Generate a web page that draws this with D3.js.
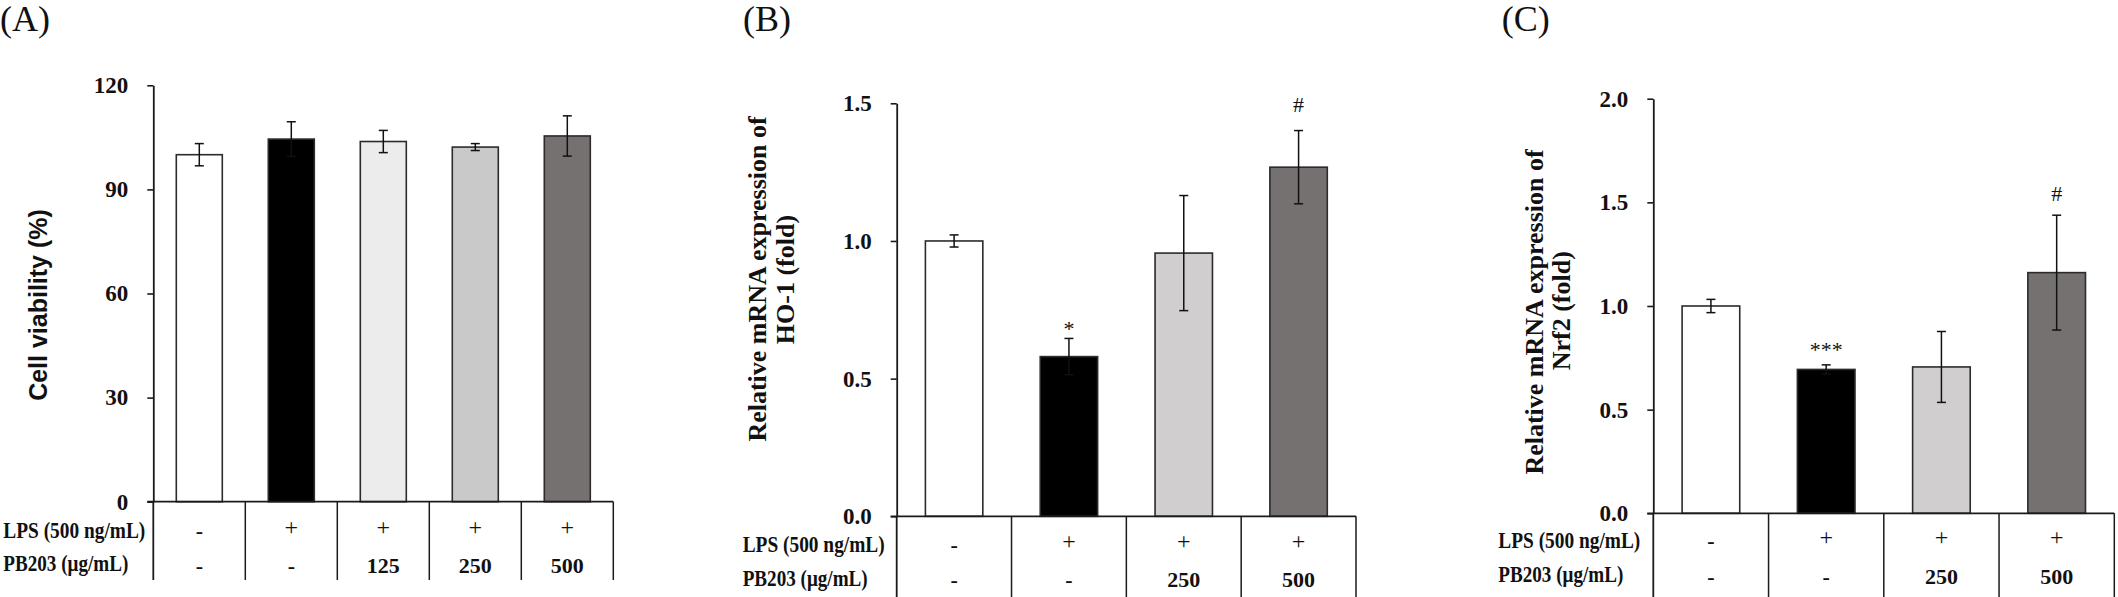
<!DOCTYPE html>
<html>
<head>
<meta charset="utf-8">
<script src="https://cdn.jsdelivr.net/npm/d3@7"></script>
<style>
  html, body { margin: 0; padding: 0; background: #ffffff; }
  svg { display: block; }
</style>
</head>
<body>
<div id="chart"></div>
<script>
// ---------------- DATA ----------------
// Panel A: cell viability
const catsA = ["Control", "LPS", "LPS+PB203 125", "LPS+PB203 250", "LPS+PB203 500"];
const lpsRowA = ["-", "+", "+", "+", "+"];
const pbRowA = ["-", "-", "125", "250", "500"];
const viabilityMean = [100.0, 104.5, 103.8, 102.2, 105.4];
const viabilityErr = [3.2, 5.0, 3.2, 1.0, 5.8];
const colorsA = ["#ffffff", "#000000", "#ececec", "#c9c9c9", "#767171"];
const ticksA = [0, 30, 60, 90, 120];

// Panel B: HO-1
const catsB = ["Control", "LPS", "LPS+PB203 250", "LPS+PB203 500"];
const lpsRowB = ["-", "+", "+", "+"];
const pbRowB = ["-", "-", "250", "500"];
const ho1Mean = [1.00, 0.58, 0.956, 1.268];
const ho1Err = [0.022, 0.066, 0.209, 0.133];
const ho1Marks = ["", "*", "", "#"];
const ho1MarkY = [null, 0.70, null, 1.495];
const ticksB = [0.0, 0.5, 1.0, 1.5];

// Panel C: Nrf2
const catsC = ["Control", "LPS", "LPS+PB203 250", "LPS+PB203 500"];
const lpsRowC = ["-", "+", "+", "+"];
const pbRowC = ["-", "-", "250", "500"];
const nrf2Mean = [1.00, 0.694, 0.706, 1.161];
const nrf2Err = [0.032, 0.022, 0.171, 0.277];
const nrf2Marks = ["", "***", "", "#"];
const nrf2MarkY = [null, 0.811, null, 1.541];
const ticksC = [0.0, 0.5, 1.0, 1.5, 2.0];

const colorsBC = ["#ffffff", "#000000", "#d0cece", "#767171"];
const rowLabels = ["LPS (500 ng/mL)", "PB203 (\u03bcg/mL)"];

// ---------------- LAYOUT ----------------
const W = 2118, H = 597;
const SERIF = "'Liberation Serif', 'Times New Roman', Times, serif";
const SANS = "'Liberation Sans', Arial, Helvetica, sans-serif";

const svg = d3.select("#chart").append("svg")
  .attr("width", W).attr("height", H)
  .attr("viewBox", `0 0 ${W} ${H}`);

function drawPanel(cfg) {
  const g = svg.append("g");
  const n = cfg.cats.length;

  const x = d3.scaleBand().domain(cfg.cats).range([cfg.x0, cfg.x1])
    .paddingInner(0.5).paddingOuter(0.25);
  const xCell = d3.scaleBand().domain(cfg.cats).range([cfg.x0, cfg.x1]).padding(0);
  const y = d3.scaleLinear().domain([0, cfg.max]).range([cfg.yBase, cfg.yTop]);

  // panel letter
  g.append("text")
    .attr("x", cfg.letterX).attr("y", 31)
    .attr("font-family", SERIF).attr("font-size", 36)
    .attr("fill", "#111")
    .text(cfg.letter);

  // bars
  g.selectAll("rect.bar").data(cfg.values).enter().append("rect")
    .attr("class", "bar")
    .attr("x", (d, i) => x(cfg.cats[i]))
    .attr("width", x.bandwidth())
    .attr("y", d => y(d))
    .attr("height", d => y(0) - y(d))
    .attr("fill", (d, i) => cfg.colors[i])
    .attr("stroke", "#2b2b2b")
    .attr("stroke-width", 1.6);

  // error bars
  const cap = 4.5;
  const eb = g.selectAll("g.err").data(cfg.values).enter().append("g").attr("class", "err");
  eb.append("line")
    .attr("x1", (d, i) => x(cfg.cats[i]) + x.bandwidth() / 2)
    .attr("x2", (d, i) => x(cfg.cats[i]) + x.bandwidth() / 2)
    .attr("y1", (d, i) => y(d - cfg.errs[i]))
    .attr("y2", (d, i) => y(d + cfg.errs[i]));
  eb.append("line")
    .attr("x1", (d, i) => x(cfg.cats[i]) + x.bandwidth() / 2 - cap)
    .attr("x2", (d, i) => x(cfg.cats[i]) + x.bandwidth() / 2 + cap)
    .attr("y1", (d, i) => y(d + cfg.errs[i]))
    .attr("y2", (d, i) => y(d + cfg.errs[i]));
  eb.append("line")
    .attr("x1", (d, i) => x(cfg.cats[i]) + x.bandwidth() / 2 - cap)
    .attr("x2", (d, i) => x(cfg.cats[i]) + x.bandwidth() / 2 + cap)
    .attr("y1", (d, i) => y(d - cfg.errs[i]))
    .attr("y2", (d, i) => y(d - cfg.errs[i]));
  eb.selectAll("line").attr("stroke", "#111").attr("stroke-width", 1.5);

  // significance marks
  if (cfg.marks) {
    cfg.marks.forEach((m, i) => {
      if (!m) return;
      g.append("text")
        .attr("x", x(cfg.cats[i]) + x.bandwidth() / 2)
        .attr("y", y(cfg.markY[i]))
        .attr("dy", m === "#" ? "0.34em" : "0.55em")
        .attr("text-anchor", "middle")
        .attr("font-family", SERIF).attr("font-size", 22)
        .attr("fill", "#111")
        .text(m);
    });
  }

  // y axis
  const axis = d3.axisLeft(y).tickValues(cfg.ticks).tickSize(6).tickSizeOuter(0)
    .tickPadding(19).tickFormat(cfg.fmt);
  const ag = g.append("g").attr("transform", `translate(${cfg.x0},0)`).call(axis);
  ag.select(".domain").attr("stroke", "#1a1a1a").attr("stroke-width", 1.8);
  ag.selectAll(".tick line").attr("stroke", "#1a1a1a").attr("stroke-width", 1.6);
  ag.selectAll(".tick text")
    .attr("font-family", SERIF).attr("font-size", 23).attr("font-weight", "bold")
    .attr("fill", "#111");

  // axis extension down into the table
  g.append("line")
    .attr("x1", cfg.x0).attr("x2", cfg.x0)
    .attr("y1", cfg.yBase).attr("y2", cfg.tableBottom)
    .attr("stroke", "#1a1a1a").attr("stroke-width", 1.8);

  // baseline
  g.append("line")
    .attr("x1", cfg.x0 - 6).attr("x2", cfg.x1)
    .attr("y1", cfg.yBase).attr("y2", cfg.yBase)
    .attr("stroke", "#1a1a1a").attr("stroke-width", 1.8);

  // table vertical lines (category boundaries)
  const bounds = cfg.cats.slice(1).map(c => xCell(c)).concat([cfg.x1]);
  g.selectAll("line.vl").data(bounds).enter().append("line")
    .attr("class", "vl")
    .attr("x1", d => d).attr("x2", d => d)
    .attr("y1", cfg.yBase).attr("y2", cfg.tableBottom)
    .attr("stroke", "#1a1a1a").attr("stroke-width", 1.5);

  // row labels
  const rowY = [cfg.row1, cfg.row2];
  const rowW = [142, 125];
  rowLabels.forEach((lab, r) => {
    g.append("text")
      .attr("x", cfg.x0 - cfg.labelOffset).attr("y", rowY[r])
      .attr("font-family", SERIF).attr("font-size", 22.5).attr("font-weight", "bold")
      .attr("textLength", rowW[r]).attr("lengthAdjust", "spacingAndGlyphs")
      .attr("fill", "#111")
      .text(lab);
  });

  // table cell values
  [cfg.lps, cfg.pb].forEach((row, r) => {
    row.forEach((v, i) => {
      const cx = xCell(cfg.cats[i]) + xCell.bandwidth() / 2;
      const isPlus = v === "+";
      g.append("text")
        .attr("x", cx)
        .attr("y", rowY[r] + (r === 1 ? 1.5 : 0) - (isPlus ? 3 : 0))
        .attr("text-anchor", "middle")
        .attr("font-family", SERIF)
        .attr("font-size", isPlus ? 24 : 22)
        .attr("font-weight", isPlus ? "normal" : "bold")
        .attr("fill", "#111")
        .text(v);
    });
  });

  // y axis title (rotated)
  cfg.title.forEach((line, k) => {
    g.append("text")
      .attr("transform", `translate(${cfg.titleX[k]},${cfg.titleY[k]}) rotate(-90)`)
      .attr("text-anchor", "middle")
      .attr("font-family", cfg.titleFont)
      .attr("font-size", cfg.titleSize)
      .attr("font-weight", "bold")
      .attr("fill", "#111")
      .text(line);
  });
}

drawPanel({
  letter: "(A)", letterX: 0,
  cats: catsA, values: viabilityMean, errs: viabilityErr, colors: colorsA,
  lps: lpsRowA, pb: pbRowA,
  max: 120, ticks: ticksA, fmt: d3.format("d"),
  x0: 153.3, x1: 613.3, yTop: 85.3, yBase: 501.7,
  tableBottom: 580, row1: 538, row2: 571, labelOffset: 150,
  title: ["Cell viability (%)"], titleX: [47], titleY: [305],
  titleFont: SANS, titleSize: 25
});

drawPanel({
  letter: "(B)", letterX: 743,
  cats: catsB, values: ho1Mean, errs: ho1Err, colors: colorsBC,
  lps: lpsRowB, pb: pbRowB, marks: ho1Marks, markY: ho1MarkY,
  max: 1.5, ticks: ticksB, fmt: d3.format(".1f"),
  x0: 896.7, x1: 1356, yTop: 103.3, yBase: 516.3,
  tableBottom: 597, row1: 551.7, row2: 585.5, labelOffset: 154,
  title: ["Relative mRNA expression of", "HO-1 (fold)"],
  titleX: [765.5, 793.5], titleY: [279, 279.6],
  titleFont: SERIF, titleSize: 26
});

drawPanel({
  letter: "(C)", letterX: 1501.7,
  cats: catsC, values: nrf2Mean, errs: nrf2Err, colors: colorsBC,
  lps: lpsRowC, pb: pbRowC, marks: nrf2Marks, markY: nrf2MarkY,
  max: 2.0, ticks: ticksC, fmt: d3.format(".1f"),
  x0: 1653.3, x1: 2114.3, yTop: 98.7, yBase: 513.3,
  tableBottom: 597, row1: 548, row2: 582, labelOffset: 155,
  title: ["Relative mRNA expression of", "Nrf2 (fold)"],
  titleX: [1542.5, 1569.5], titleY: [312, 310.7],
  titleFont: SERIF, titleSize: 26
});
</script>
</body>
</html>
